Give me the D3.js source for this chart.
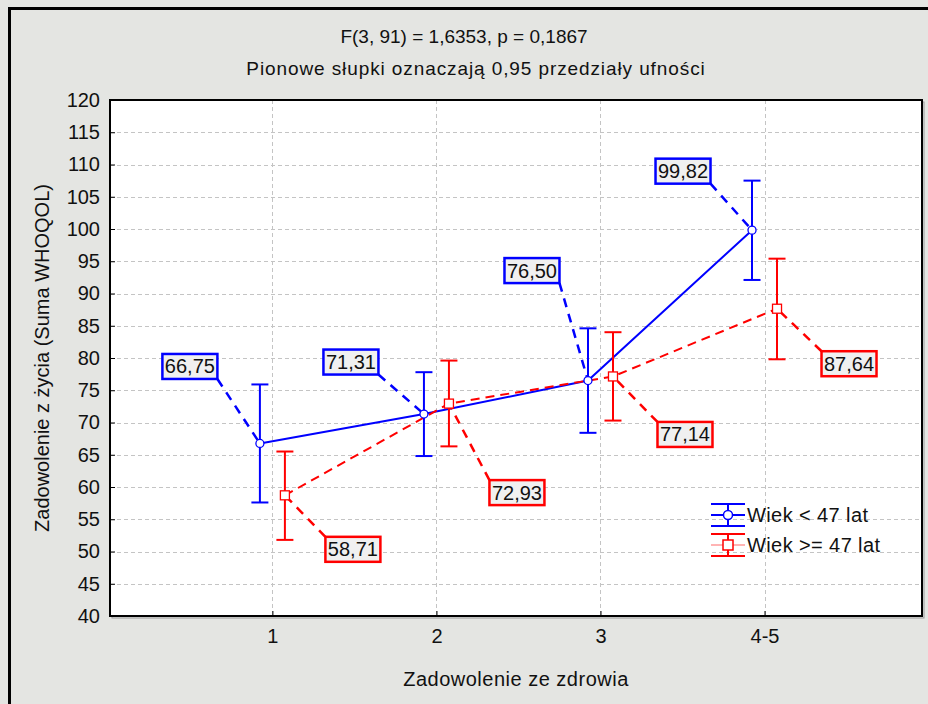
<!DOCTYPE html>
<html>
<head>
<meta charset="utf-8">
<script src="https://cdn.jsdelivr.net/npm/d3@7"></script>
<style>
  html, body { margin: 0; padding: 0; background: #e4e5e2; }
  svg { display: block; }
  text { font-family: "Liberation Sans", Arial, sans-serif; fill: #111; }
</style>
</head>
<body>
<svg id="chart" width="928" height="704"></svg>
<script>
// ---------- data ----------
const categories = ["1", "2", "3", "4-5"];
const seriesNames = ["Wiek < 47 lat", "Wiek >= 47 lat"];
const meanYoung = [66.75, 71.31, 76.50, 99.82];
const lowYoung  = [57.6, 64.8, 68.4, 92.1];
const highYoung = [75.9, 77.8, 84.6, 107.5];
const meanOld   = [58.71, 72.93, 77.14, 87.64];
const lowOld    = [51.8, 66.3, 70.3, 79.8];
const highOld   = [65.5, 79.6, 84.0, 95.4];
const yTickValues = [40, 45, 50, 55, 60, 65, 70, 75, 80, 85, 90, 95, 100, 105, 110, 115, 120];
const titleLine1 = "F(3, 91) = 1,6353, p = 0,1867";
const titleLine2 = "Pionowe słupki oznaczają 0,95 przedziały ufności";
const xTitle = "Zadowolenie ze zdrowia";
const yTitle = "Zadowolenie z życia (Suma WHOQOL)";

// ---------- layout / style ----------
const W = 928, H = 704;
const plot = { left: 110, top: 100, right: 922, bottom: 616 };
const colors = ["#0000ff", "#ff0000"];
const offsets = [-12.5, 12.5];
// label box offsets (pixels, relative to point)
const labelOffsets = [
  [[-70, -77], [-73, -52], [-56, -110], [-69, -59]],
  [[68, 54], [68, 89], [72, 58], [72, 55]]
];

const svg = d3.select("#chart");

// background and outer frame
svg.append("rect").attr("width", W).attr("height", H).attr("fill", "#e4e5e2");
svg.append("rect").attr("x", 9.5).attr("y", 8.5).attr("width", W + 20).attr("height", H + 20)
  .attr("fill", "none").attr("stroke", "#000").attr("stroke-width", 3);

// plot area
svg.append("rect").attr("x", plot.left + 2).attr("y", plot.top + 2)
  .attr("width", plot.right - plot.left).attr("height", plot.bottom - plot.top)
  .attr("fill", "none").attr("stroke", "#9a9a9a").attr("stroke-width", 1);
svg.append("rect").attr("x", plot.left).attr("y", plot.top)
  .attr("width", plot.right - plot.left).attr("height", plot.bottom - plot.top)
  .attr("fill", "#fff");

const x = d3.scaleLinear().domain([0.01, 4.96]).range([plot.left, plot.right]);
const y = d3.scaleLinear().domain([40, 120]).range([plot.bottom, plot.top]);
const xc = i => x(i + 1);

// grid
const grid = svg.append("g").attr("stroke", "#c4c4c4").attr("stroke-width", 1).attr("stroke-dasharray", "4,3");
yTickValues.filter(v => v > 40 && v < 120).forEach(v => {
  grid.append("line").attr("x1", plot.left).attr("x2", plot.right)
    .attr("y1", Math.round(y(v)) + 0.5).attr("y2", Math.round(y(v)) + 0.5);
});
categories.forEach((c, i) => {
  grid.append("line").attr("y1", plot.top).attr("y2", plot.bottom)
    .attr("x1", Math.round(xc(i)) + 0.5).attr("x2", Math.round(xc(i)) + 0.5);
});

// axes
const yAxis = d3.axisLeft(y).tickValues(yTickValues).tickSize(-5).tickPadding(10).tickFormat(d3.format("d"));
const gy = svg.append("g").attr("transform", `translate(${plot.left},0)`).call(yAxis);
gy.select(".domain").remove();
gy.selectAll(".tick line").attr("stroke", "#000");
gy.selectAll(".tick text").attr("font-size", 20).attr("fill", "#111").attr("dx", 0)
  .style("font-family", "'Liberation Sans', Arial, sans-serif");

const xAxis = d3.axisBottom(x).tickValues(categories.map((c, i) => i + 1))
  .tickFormat((d, i) => categories[i]).tickSize(-5).tickPadding(13);
const gx = svg.append("g").attr("transform", `translate(0,${plot.bottom})`).call(xAxis);
gx.select(".domain").remove();
gx.selectAll(".tick line").attr("stroke", "#000");
gx.selectAll(".tick text").attr("font-size", 20).attr("fill", "#111")
  .style("font-family", "'Liberation Sans', Arial, sans-serif");

// plot frame
svg.append("rect").attr("x", plot.left).attr("y", plot.top)
  .attr("width", plot.right - plot.left).attr("height", plot.bottom - plot.top)
  .attr("fill", "none").attr("stroke", "#000").attr("stroke-width", 2);

// series
const series = [
  { name: seriesNames[0], mean: meanYoung, low: lowYoung, high: highYoung, color: colors[0], dash: null, marker: "circle" },
  { name: seriesNames[1], mean: meanOld, low: lowOld, high: highOld, color: colors[1], dash: "9,6", marker: "square" }
];
const fmt = v => d3.format(".2f")(v).replace(".", ",");

const gLines = svg.append("g");
const gConn = svg.append("g");
const gErr = svg.append("g");
const gMark = svg.append("g");
const gLab = svg.append("g");

series.forEach((s, si) => {
  const px = i => xc(i) + offsets[si];
  const line = d3.line().x((d, i) => px(i)).y(d => y(d));
  gLines.append("path").datum(s.mean).attr("d", line)
    .attr("fill", "none").attr("stroke", s.color).attr("stroke-width", 2)
    .attr("stroke-dasharray", s.dash);

  s.mean.forEach((m, i) => {
    const cx = px(i), cy = y(m);
    // error bar
    const cap = 8.5;
    gErr.append("line").attr("x1", cx).attr("x2", cx).attr("y1", y(s.low[i])).attr("y2", y(s.high[i]))
      .attr("stroke", s.color).attr("stroke-width", 2);
    [s.low[i], s.high[i]].forEach(v => {
      gErr.append("line").attr("x1", cx - cap).attr("x2", cx + cap).attr("y1", y(v)).attr("y2", y(v))
        .attr("stroke", s.color).attr("stroke-width", 2);
    });
    // marker
    if (s.marker === "circle") {
      gMark.append("circle").attr("cx", cx).attr("cy", cy).attr("r", 4)
        .attr("fill", "#fff").attr("stroke", s.color).attr("stroke-width", 1.3);
    } else {
      gMark.append("rect").attr("x", cx - 4.5).attr("y", cy - 4.5).attr("width", 9).attr("height", 9)
        .attr("fill", "#fff").attr("stroke", s.color).attr("stroke-width", 1.3);
    }
    // label
    const [dx, dy] = labelOffsets[si][i];
    const bw = 55, bh = 25;
    const bx = cx + dx, by = cy + dy;
    const cornerX = bx + (dx < 0 ? bw / 2 : -bw / 2);
    const cornerY = by + (dy < 0 ? bh / 2 : -bh / 2);
    gConn.append("line").attr("x1", cornerX).attr("y1", cornerY).attr("x2", cx).attr("y2", cy)
      .attr("stroke", s.color).attr("stroke-width", 2.5).attr("stroke-dasharray", "9,7");
    gLab.append("rect").attr("x", bx - bw / 2).attr("y", by - bh / 2).attr("width", bw).attr("height", bh)
      .attr("fill", "#f0f0f0").attr("stroke", s.color).attr("stroke-width", 2.5);
    gLab.append("text").attr("x", bx).attr("y", by + 7).attr("text-anchor", "middle")
      .attr("font-size", 20).text(fmt(m));
  });
});

// legend
const leg = svg.append("g");
const legX = 711, legW = 34, legY = [515, 545], half = 11;
series.forEach((s, si) => {
  const ly = legY[si];
  leg.append("line").attr("x1", legX).attr("x2", legX + legW).attr("y1", ly).attr("y2", ly)
    .attr("stroke", si === 0 ? s.color : "#ffb4b4").attr("stroke-width", 2);
  [ly - half, ly + half].forEach(v => {
    leg.append("line").attr("x1", legX).attr("x2", legX + legW).attr("y1", v).attr("y2", v)
      .attr("stroke", s.color).attr("stroke-width", 2);
  });
  leg.append("line").attr("x1", legX + legW / 2).attr("x2", legX + legW / 2).attr("y1", ly - half).attr("y2", ly + half)
    .attr("stroke", s.color).attr("stroke-width", 2);
  if (s.marker === "circle") {
    leg.append("circle").attr("cx", legX + legW / 2).attr("cy", ly).attr("r", 4.5)
      .attr("fill", "#fff").attr("stroke", s.color).attr("stroke-width", 1.5);
  } else {
    leg.append("rect").attr("x", legX + legW / 2 - 5).attr("y", ly - 5).attr("width", 10).attr("height", 10)
      .attr("fill", "#fff").attr("stroke", s.color).attr("stroke-width", 1.5);
  }
  leg.append("text").attr("x", legX + legW + 2).attr("y", ly + 7).attr("font-size", 20)
    .attr("letter-spacing", 0.4).text(s.name);
});

// titles
svg.append("text").attr("x", 464).attr("y", 43).attr("text-anchor", "middle").attr("font-size", 19).text(titleLine1);
svg.append("text").attr("x", 476).attr("y", 75).attr("text-anchor", "middle").attr("font-size", 19)
  .attr("letter-spacing", 0.9).text(titleLine2);
svg.append("text").attr("x", 516).attr("y", 686).attr("text-anchor", "middle").attr("font-size", 20)
  .attr("letter-spacing", 0.5).text(xTitle);
svg.append("text").attr("transform", `translate(49,358) rotate(-90)`).attr("text-anchor", "middle")
  .attr("font-size", 20).text(yTitle);
</script>
</body>
</html>
